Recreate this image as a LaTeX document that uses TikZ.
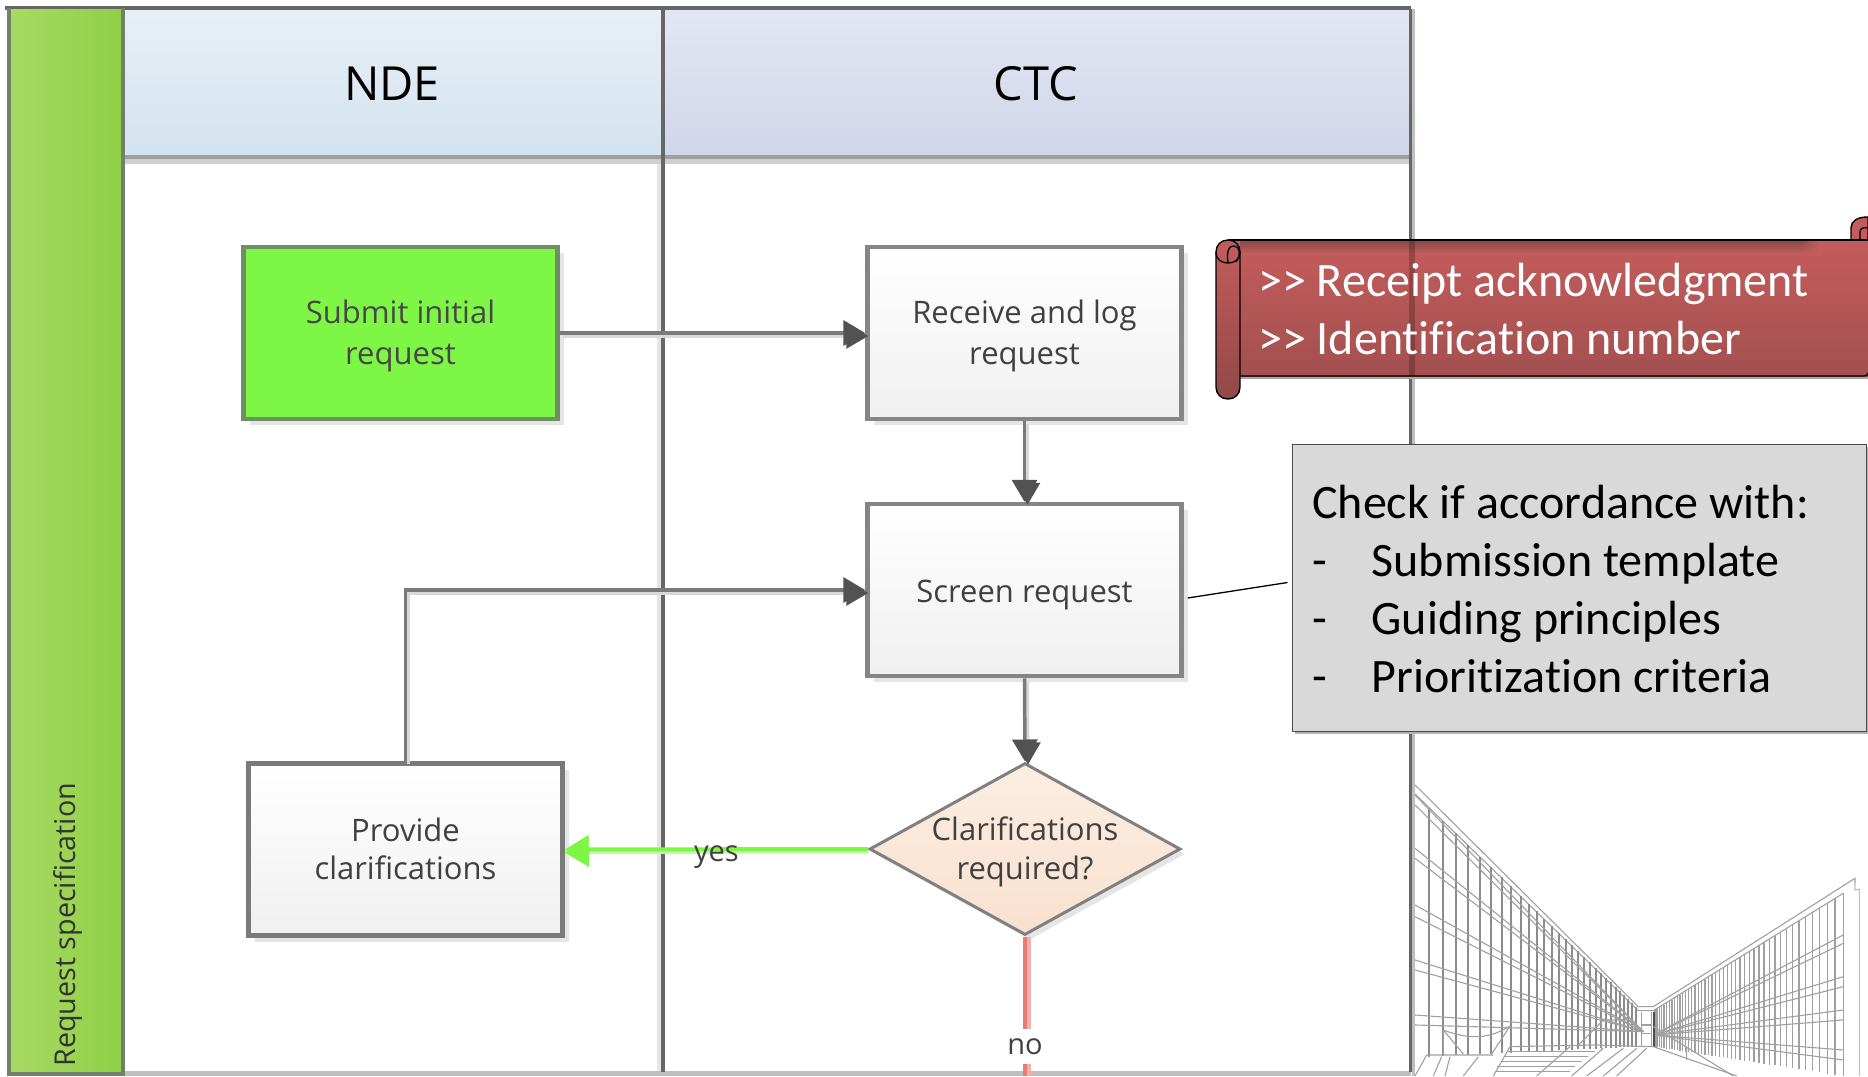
\documentclass[tikz,border=0pt]{standalone}
\usepackage{fontspec}
\setmainfont{Carlito}[Ligatures=NoCommon]
\newfontfamily\flowfont{Open Sans}
\usetikzlibrary{arrows.meta,shapes.geometric,shadows,calc}
\definecolor{lanegray}{HTML}{666666}
\definecolor{boxedge}{HTML}{858585}
\definecolor{flowtext}{HTML}{404040}
\definecolor{archline}{HTML}{A0A0A0}
\definecolor{arrowgreen}{HTML}{7EF646}
\definecolor{arrowred}{HTML}{EA7B73}
\definecolor{ribtop}{HTML}{C45C5C}
\definecolor{ribbot}{HTML}{A35050}
\definecolor{ribdark}{HTML}{8C4A4A}
\definecolor{HeadTopA}{HTML}{E8EFF6}
\definecolor{HeadBotA}{HTML}{D3E3EF}
\definecolor{HeadTopB}{HTML}{E3E6F2}
\definecolor{HeadBotB}{HTML}{D0D6EA}
\definecolor{BandLeft}{HTML}{A8DA62}
\definecolor{BandRight}{HTML}{8FD046}
\definecolor{BandEdge}{HTML}{70806A}
\definecolor{SubmitEdge}{HTML}{6F8F62}
\definecolor{DiaTop}{HTML}{FBEEE2}
\definecolor{DiaBot}{HTML}{F9E0CF}
\tikzset{
  flowbox/.style={rectangle,draw=boxedge,line width=4.5pt,minimum width=314pt,minimum height=172pt,
    top color=white,bottom color=black!6,
    drop shadow={shadow xshift=6pt,shadow yshift=-6pt,fill=black!10,opacity=1}},
  flowlabel/.style={align=center,text=flowtext,font=\flowfont\fontsize{31}{40}\selectfont},
  flowline/.style={draw=black!52,line width=3.5pt,
    preaction={draw=black!15,line width=3pt,transform canvas={xshift=3pt,yshift=-3pt}}},
  flowarrow/.style={flowline,-{Triangle[length=22pt,width=25pt,color=black!68]}},
  lanelabel/.style={font=\flowfont\fontsize{47}{52}\selectfont,text=black},
  edgelabel/.style={font=\flowfont\fontsize{29}{32}\selectfont,text=flowtext,inner sep=3pt},
  notetext/.style={font=\fontsize{48}{58}\selectfont},
  archthin/.style={draw=archline,line width=1.1pt},
  archthick/.style={draw=black!45,line width=1.9pt},
}
\begin{document}
\begin{tikzpicture}[x=1pt,y=-1pt]
\useasboundingbox (0,0) rectangle (1868,1076);
\fill[white] (0,0) rectangle (1868,1076);
% building
\begin{scope}
\clip (1415,770) rectangle (1868,1076);
\begin{scope}[shift={(1400,770)},x=.3333pt,y=-.3333pt]
\draw[archthin] (45,45)--(715,710)--(760,710)--(1365,325)--(1365,340);
\draw[archthin] (45,72)--(715,722)--(760,722)--(1330,370);
\draw[archthin,draw=black!25] (1365,325)--(1365,360)--(1378,358)--(1378,918);
\foreach \x in {88,128,168,205,240,272,305,333,362,387,410,433,455,478,497,517,535,552,570,587,603,618,632,647,660,672,685,697,708}{
  \draw[archthick] (\x,{72+(\x-45)*0.9627}) -- (\x,{862-(\x-45)*0.048});
}
\foreach \y in {75,105,235,265,405,440,570,600,735,765}{
  \draw[archthin] (45,\y) -- (730,785);
}
\foreach \x in {1330,1305,1282,1258,1238,1217,1197,1177,1160,1142,1125,1108,1092,1077,1062,1048,1034,1020,1007,995,982,970,958,947,936,925,915,905,895,885,875,866,857,848,840,832,824,816,808,800,792,785,778,771,765}{
  \draw[archthin,line width=1.2pt] (\x,{370+(1330-\x)*0.62}) -- (\x,{918-(1330-\x)*0.155});
}
\foreach \y in {495,520,620,650,720,750,840,870}{
  \draw[archthin] (1330,\y) -- (760,795);
}
\draw[draw=black!70,line width=1.5pt] (762,725)--(762,832);
\draw[archthin] (725,725)--(725,830) (755,725)--(755,830) (725,765)--(755,765) (725,790)--(755,790);
% floor and stairs
\draw[archthin] (80,855)--(280,855) (330,830)--(590,825) (590,825)--(745,830) (745,830)--(760,830)--(1010,918);
\foreach \a/\b/\c/\d in {45/918/80/855,100/918/125/860,135/918/150/860,190/918/235/860,280/918/330/830,410/918/510/830,515/918/610/835,560/918/670/835,610/918/710/835,650/918/740/835}{
  \draw[archthin] (\a,\b)--(\c,\d);
}
\foreach \y/\l/\r in {845/322/585,860/312/565,875/302/545,890/292/525,905/285/510}{
  \draw[archthin] (\l,\y)--(\r,\y);
}
\draw[archthin] (130,780) .. controls (220,815) and (280,800) .. (330,768);
\draw[archthin] (130,780)--(190,852) (330,768)--(275,852) (130,780)--(130,852);
\draw[archthin] (600,750)--(700,750) (605,750)--(605,840) (530,830)--(610,750);
\draw[archthin] (760,770)--(1000,918) (860,830)--(860,870);
\end{scope}
\end{scope}
% header bands
\shade[top color=HeadTopA,bottom color=HeadBotA] (125,9) rectangle (663,155);
\shade[top color=HeadTopB,bottom color=HeadBotB] (663,9) rectangle (1411,155);
\fill[black!38] (125,155) rectangle (1411,159);
\fill[black!19] (125,159) rectangle (1411,164);
\fill[black!25] (125,1071) rectangle (1411,1076);
% lane lines
\fill[black!10] (657,164) rectangle (661,1071);
\fill[lanegray] (5,6) rectangle (1411,10);
\fill[lanegray] (661,9) rectangle (665,1072);
\fill[lanegray] (1408.5,9) rectangle (1412,1072);
\fill[black!25] (1412,9) rectangle (1415,1076);
% green band
\shade[left color=BandLeft,right color=BandRight] (9,9) rectangle (122,1072);
\draw[draw=BandEdge,line width=4pt] (8.5,8) -- (8.5,1074) -- (123,1074) -- (123,8);
\node[rotate=90,anchor=west,font=\flowfont\fontsize{28.7}{32}\selectfont,text=black!80] (bandlabel) at (68,1070) {Request specification};
\node[lanelabel] (ndelabel) at (392,84) {NDE};
\node[lanelabel] (ctclabel) at (1036,84) {CTC};
% boxes
\node[flowbox,draw=SubmitEdge,top color=arrowgreen,bottom color=arrowgreen] (submit) at (400.5,333) {};
\node[flowbox] (receive) at (1024.5,333) {};
\node[flowbox] (screen) at (1024.5,590) {};
\node[flowbox,draw=black!52] (provide) at (405.5,849.5) {};
\node[diamond,draw=black!50,line width=3pt,inner sep=0pt,aspect=1.81,minimum width=311pt,minimum height=172pt,
   top color=DiaTop,bottom color=DiaBot,
   drop shadow={shadow xshift=5pt,shadow yshift=-5pt,fill=black!10,opacity=1}] (decide) at (1025,849) {};
\node[flowlabel,text=black!72,font=\flowfont\fontsize{31}{41}\selectfont] (submittext) at (400.5,336) {Submit initial\\request};
\node[flowlabel,font=\flowfont\fontsize{31}{41}\selectfont] (receivetext) at (1024.5,336) {Receive and log\\request};
\node[flowlabel] (screentext) at (1024.5,595) {Screen request};
\node[flowlabel,font=\flowfont\fontsize{31}{38.5}\selectfont] (providetext) at (405.5,849) {Provide\\clarifications};
\node[flowlabel,font=\flowfont\fontsize{31}{38.5}\selectfont] (decidetext) at (1025,852) {Clarifications\\required?};
% connectors
\draw[flowarrow] (submit.east) -- (receive.west);
\draw[flowarrow] (receive.south) -- (screen.north);
\draw[flowarrow] (screen.south) -- (decide.north);
\draw[flowarrow] (provide.north) |- (screen.west);
\draw[draw=arrowgreen,line width=4pt,preaction={draw=arrowgreen!50,line width=3pt,transform canvas={yshift=-3pt}},
   -{Triangle[length=24pt,width=28pt,color=arrowgreen]}] (decide.west) -- (provide.east) node[edgelabel,pos=.5,yshift=-8pt] (yeslabel) {yes};
\coordinate (redend) at (1025,1076);
\draw[draw=arrowred,line width=4.5pt,preaction={draw=arrowred!60,line width=4pt,transform canvas={xshift=4pt}}] (decide.south) -- (redend);
\node[edgelabel,fill=white,inner xsep=10pt,inner ysep=9pt] (nolabel) at (1025,1046.5) {no};
% ribbon
\shade[top color=ribtop,bottom color=ribtop,draw=black,line width=1.4pt] (1851,240) -- (1851,228) .. controls (1851,221) and (1857,217) .. (1868,217) -- (1868,240) -- cycle;
\draw[black,line width=1.2pt] (1860,240) -- (1860,232) .. controls (1860,228) and (1864,227) .. (1868,228);
\shade[top color=ribtop,bottom color=ribbot] (1228,240) -- (1868,240) -- (1868,376) -- (1228,376) -- cycle;
\shade[top color=ribdark,bottom color=ribtop] (1240,241) rectangle (1800,254);
\foreach \i in {0,...,10}{
  \pgfmathsetmacro{\mixval}{100-10*\i}
  \shade[top color=ribdark!\mixval!ribtop,bottom color=ribtop] ({1800+2*\i},241) rectangle ({1802.3+2*\i},254);
}
\fill[black,opacity=.22] (1409,240) rectangle (1415,376);
\fill[black!35] (1240,377) rectangle (1868,379);
\draw[black,line width=1.4pt] (1228,240) -- (1868,240);
\draw[black,line width=1.4pt] (1240,376) -- (1864,376) .. controls (1866,376) and (1868,375) .. (1868,373);
\shade[top color=ribtop,bottom color=ribbot!90!black,draw=black,line width=1.4pt]
  (1216,252) .. controls (1216,245) and (1221,240) .. (1228,240) .. controls (1235,240) and (1240,245) .. (1240,252)
  -- (1240,387) .. controls (1240,394) and (1235,399) .. (1228,399) .. controls (1221,399) and (1216,394) .. (1216,387) -- cycle;
\draw[black,line width=1.3pt] (1216,252) .. controls (1216,260) and (1222,263) .. (1228,263) .. controls (1234,263) and (1240,260) .. (1240,252);
\draw[black,line width=1.3pt] (1228,263) .. controls (1227,255) and (1227,246) .. (1234,246) .. controls (1240,246) and (1241,255) .. (1236,262);
\node[notetext,text=white,align=left,anchor=west,inner sep=0pt] (ribbontext) at (1258,309) {>{}> Receipt acknowledgment\\>{}> Identification number};
% note box
\node[rectangle,draw=black!70,line width=1pt,fill=black!15,minimum width=574pt,minimum height=287pt,
  drop shadow={shadow xshift=3pt,shadow yshift=-3pt,fill=black!30,opacity=1}] (note) at (1579,587.5) {};
\node[notetext,align=left,anchor=west,inner sep=0pt] (notebody) at (1312,589.5)
  {Check if accordance with:\\\makebox[59.5pt][l]{-}Submission template\\\makebox[59.5pt][l]{-}Guiding principles\\\makebox[59.5pt][l]{-}Prioritization criteria};
\coordinate (leaderfrom) at ($(screen.east)+(4,8)$);
\coordinate (leaderto) at ($(note.west)+(-4,-5)$);
\draw[black,line width=1.3pt] (leaderfrom) -- (leaderto);
\end{tikzpicture}
\end{document}
